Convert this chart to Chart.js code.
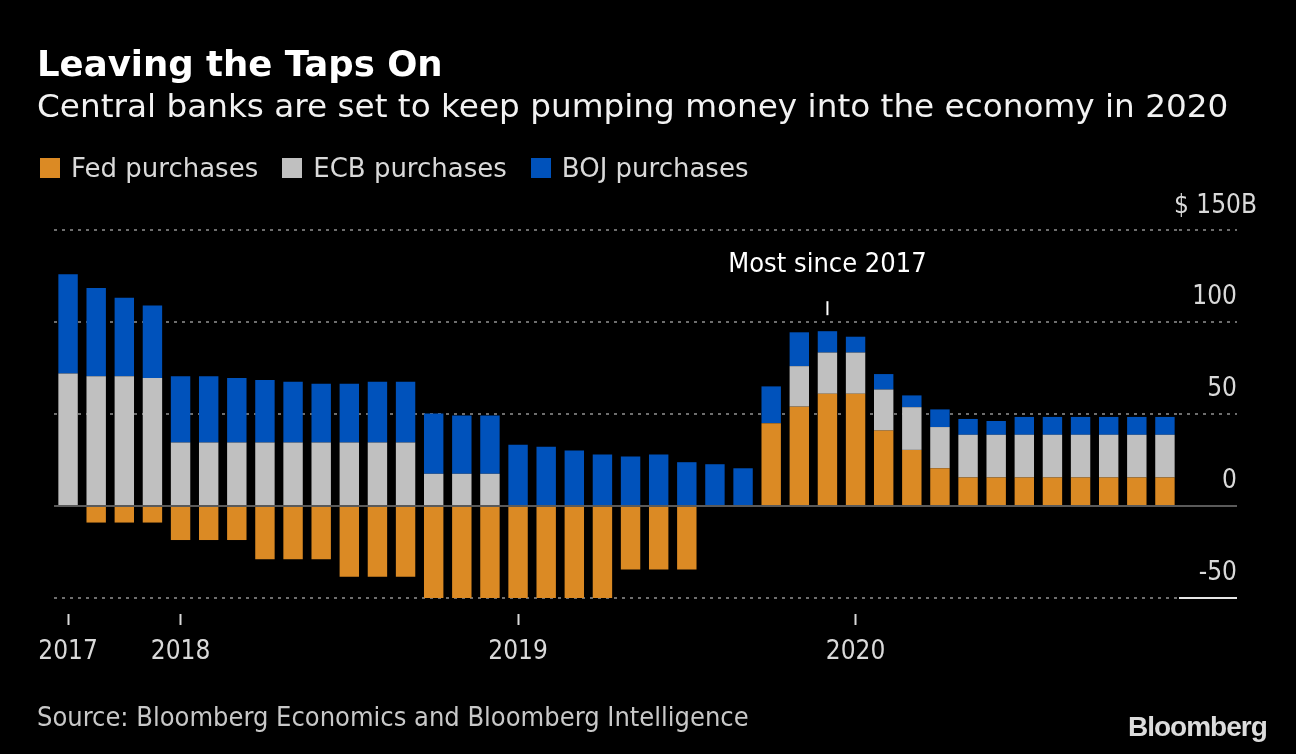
<!DOCTYPE html>
<html>
<head>
<meta charset="utf-8">
<title>Leaving the Taps On</title>
<script src="https://cdn.jsdelivr.net/npm/chart.js@4.4.1/dist/chart.umd.min.js"></script>
<style>
  body { margin: 0; background: #000; }
  #wrap {
    position: relative; width: 1296px; height: 754px; overflow: hidden; background: #000;
    font-family: "DejaVu Sans", sans-serif; color: #fff;
  }
  #chart { position: absolute; left: 0; top: 0; }
  .title { position: absolute; left: 37px; top: 46px; font-size: 35.5px; font-weight: bold; line-height: 1; white-space: nowrap; }
  .subtitle { position: absolute; left: 37px; top: 90px; font-size: 32.7px; line-height: 1; color: #f2f2f2; white-space: nowrap; }
  #legend { position: absolute; left: 40px; top: 155px; display: flex; font-size: 26px; line-height: 1; color: #d9d9d9; white-space: nowrap; }
  .item { display: flex; align-items: center; margin-right: 24px; }
  .swatch { width: 20px; height: 20px; margin-right: 11px; }
  .source {
    position: absolute; left: 37px; top: 703px; font-size: 27px; line-height: 1; color: #c8c8c8; white-space: nowrap;
    font-family: "DejaVu Sans Condensed", "DejaVu Sans", sans-serif;
  }
  .logo {
    position: absolute; left: 1128px; top: 713px; line-height: 1;
    font-family: "Liberation Sans", Arial, sans-serif; font-weight: bold; font-size: 28px;
    letter-spacing: -1px; color: #dcdcdc;
  }
</style>
</head>
<body>
<div id="wrap">
  <canvas id="chart" width="1296" height="754"></canvas>
  <div class="title">Leaving the Taps On</div>
  <div class="subtitle">Central banks are set to keep pumping money into the economy in 2020</div>
  <div id="legend"></div>
  <div class="source">Source: Bloomberg Economics and Bloomberg Intelligence</div>
  <div class="logo">Bloomberg</div>
</div>
<script>
// monthly purchases, $ billions
const months = [
  'Sep 2017', 'Oct 2017', 'Nov 2017', 'Dec 2017',
  'Jan 2018', 'Feb 2018', 'Mar 2018', 'Apr 2018', 'May 2018', 'Jun 2018',
  'Jul 2018', 'Aug 2018', 'Sep 2018', 'Oct 2018', 'Nov 2018', 'Dec 2018',
  'Jan 2019', 'Feb 2019', 'Mar 2019', 'Apr 2019', 'May 2019', 'Jun 2019',
  'Jul 2019', 'Aug 2019', 'Sep 2019', 'Oct 2019', 'Nov 2019', 'Dec 2019',
  'Jan 2020', 'Feb 2020', 'Mar 2020', 'Apr 2020', 'May 2020', 'Jun 2020',
  'Jul 2020', 'Aug 2020', 'Sep 2020', 'Oct 2020', 'Nov 2020', 'Dec 2020',
];
const fedPurchases = [
  0, -9, -9, -9,
  -18.5, -18.5, -18.5, -29, -29, -29, -38.5, -38.5, -38.5, -50, -50, -50,
  -50, -50, -50, -50, -34.5, -34.5, -34.5, 0, 0, 45, 54, 61,
  61, 41, 30.5, 20.5, 15.5, 15.5, 15.5, 15.5, 15.5, 15.5, 15.5, 15.5,
];
const ecbPurchases = [
  72, 70.5, 70.5, 69.5,
  34.5, 34.5, 34.5, 34.5, 34.5, 34.5, 34.5, 34.5, 34.5, 17.5, 17.5, 17.5,
  0, 0, 0, 0, 0, 0, 0, 0, 0, 0, 22, 22.4,
  22.4, 22.3, 23.2, 22.4, 23.2, 23.2, 23.2, 23.2, 23.2, 23.2, 23.2, 23.2,
];
const bojPurchases = [
  54, 48, 42.7, 39.5,
  36, 36, 35, 34, 33, 32, 32, 33, 33, 32.8, 31.7, 31.7,
  33.3, 32.2, 30.2, 28, 26.9, 28, 23.8, 22.7, 20.5, 20, 18.4, 11.6,
  8.6, 8.4, 6.4, 9.6, 8.6, 7.5, 9.7, 9.7, 9.7, 9.7, 9.7, 9.7,
];
const seriesNames = ['Fed purchases', 'ECB purchases', 'BOJ purchases'];
const seriesColors = ['#DB8A24', '#C0C0C0', '#0052BB'];
const yearTicks = { 'Sep 2017': '2017', 'Jan 2018': '2018', 'Jan 2019': '2019', 'Jan 2020': '2020' };
const yTickValues = [-50, 0, 50, 100, 150];
const yTickLabels = ['-50', '0', '50', '100', '$ 150B'];
const noteMonth = 'Dec 2019';
const noteText = 'Most since 2017';

const FONT = '"DejaVu Sans Condensed", "DejaVu Sans", sans-serif';

// html legend
const legend = document.getElementById('legend');
seriesNames.forEach((name, i) => {
  const item = document.createElement('div');
  item.className = 'item';
  item.innerHTML = '<span class="swatch" style="background:' + seriesColors[i] + '"></span>' + name;
  legend.appendChild(item);
});

// y labels sit above their gridlines, plus the note over the peak bar
const extras = {
  id: 'extras',
  afterDraw(chart) {
    const { ctx, scales: { x, y } } = chart;
    ctx.save();
    ctx.font = '26px ' + FONT;
    ctx.fillStyle = '#d9d9d9';
    ctx.textAlign = 'right';
    ctx.textBaseline = 'alphabetic';
    yTickValues.forEach((v, i) => {
      const label = yTickLabels[i];
      const hang = label.endsWith('B') ? ctx.measureText('B').width + 4 : 0;
      ctx.fillText(label, y.right + hang, y.getPixelForValue(v) - 17.5);
    });

    const i = months.indexOf(noteMonth);
    const total = Math.max(fedPurchases[i], 0) + ecbPurchases[i] + bojPurchases[i];
    const px = x.getPixelForValue(i);
    const top = y.getPixelForValue(total);
    ctx.strokeStyle = '#ffffff';
    ctx.lineWidth = 2;
    ctx.beginPath();
    ctx.moveTo(px, top - 16);
    ctx.lineTo(px, top - 30);
    ctx.stroke();
    ctx.font = '27px ' + FONT;
    ctx.fillStyle = '#ffffff';
    ctx.textAlign = 'center';
    ctx.fillText(noteText, px, top - 59);
    ctx.restore();
  },
};

const isDotted = v => v !== 0 && v !== -50;

new Chart(document.getElementById('chart'), {
  type: 'bar',
  data: {
    labels: months,
    datasets: [
      { label: seriesNames[0], data: fedPurchases, backgroundColor: seriesColors[0] },
      { label: seriesNames[1], data: ecbPurchases, backgroundColor: seriesColors[1] },
      { label: seriesNames[2], data: bojPurchases, backgroundColor: seriesColors[2] },
    ],
  },
  options: {
    responsive: false,
    animation: false,
    devicePixelRatio: 1,
    layout: { padding: { top: 230, left: 54, right: 59, bottom: 80 } },
    datasets: { bar: { barPercentage: 0.69, categoryPercentage: 1, borderWidth: 0 } },
    plugins: { legend: { display: false }, tooltip: { enabled: false } },
    scales: {
      x: {
        stacked: true,
        offset: true,
        border: { display: false },
        grid: {
          offset: false,
          drawOnChartArea: false,
          drawTicks: true,
          tickLength: 11,
          tickWidth: 2,
          tickColor: c => (yearTicks[months[c.index]] ? '#d9d9d9' : 'transparent'),
        },
        ticks: {
          autoSkip: false,
          maxRotation: 0,
          padding: 12,
          color: '#d9d9d9',
          font: { family: FONT, size: 26 },
          callback: (v, i) => yearTicks[months[i]] || '',
        },
        afterFit: s => { s.height = 60; },
      },
      y: {
        stacked: true,
        position: 'right',
        min: -58.7,
        max: 150,
        afterBuildTicks: s => { s.ticks = yTickValues.map(v => ({ value: v })); },
        afterFit: s => { s.width = 58; },
        border: { display: false, dash: c => (c.tick && c.tick.value === 0 ? [] : [3, 5]) },
        grid: {
          color: c => (c.tick.value === 0 ? '#5a5a5a' : '#6e6e6e'),
          lineWidth: 2,
          tickLength: 58,
          tickWidth: 2,
          tickColor: c => (c.tick.value === -50 ? '#e6e6e6' : c.tick.value === 0 ? '#5a5a5a' : '#6e6e6e'),
          tickBorderDash: c => (isDotted(c.tick.value) ? [3, 5] : []),
        },
        ticks: { display: false },
      },
    },
  },
  plugins: [extras],
});
</script>
</body>
</html>
